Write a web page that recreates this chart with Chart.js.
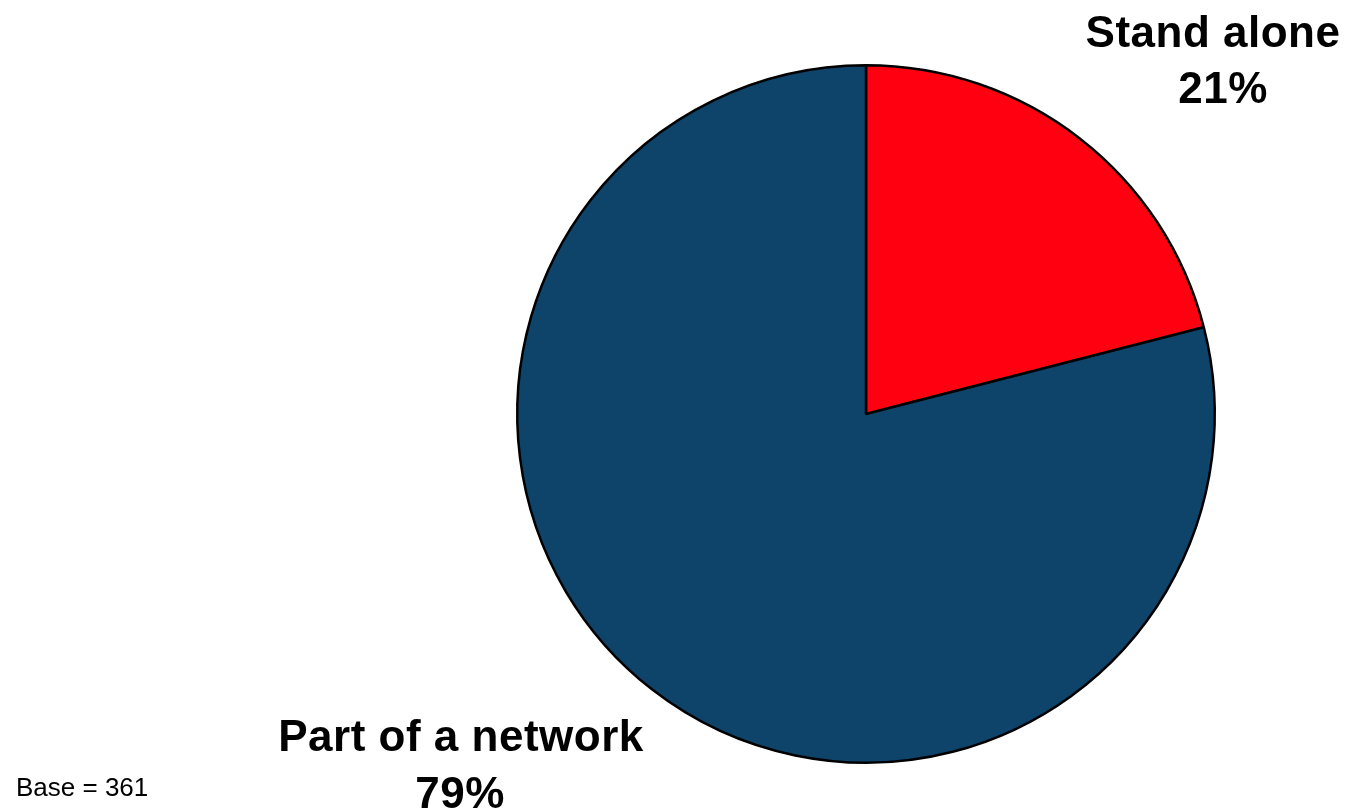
<!DOCTYPE html>
<html>
<head>
<meta charset="utf-8">
<script src="https://cdn.jsdelivr.net/npm/chart.js@4.4.1/dist/chart.umd.min.js"></script>
<style>
    html, body { margin: 0; padding: 0; background: #fff; }
    #wrap { width: 1354px; height: 812px; position: relative; }
</style>
</head>
<body>
<div id="wrap"><canvas id="pieChart"></canvas></div>
<script>
// Chart data
const categories = ['Stand alone', 'Part of a network'];
const shares = [21, 79];
const sliceColors = ['#FF0010', '#0E436A'];
const baseNote = 'Base = 361';

const FONT = "'Liberation Sans', Arial, sans-serif";

// Label placement for each slice (two lines: name + percentage)
const labelSpots = [
    { name: [1213, 47], pct: [1223, 103] },
    { name: [461, 751], pct: [460, 808] }
];

const sliceLabels = {
    id: 'sliceLabels',
    afterDraw(chart) {
        const ctx = chart.ctx;
        ctx.save();
        ctx.fillStyle = '#000';
        ctx.textAlign = 'center';
        ctx.textBaseline = 'alphabetic';
        ctx.font = `bold 44px ${FONT}`;
        ctx.letterSpacing = '0.5px';
        categories.forEach((cat, i) => {
            const spot = labelSpots[i];
            ctx.fillText(cat, spot.name[0], spot.name[1]);
            ctx.fillText(shares[i] + '%', spot.pct[0], spot.pct[1]);
        });
        ctx.letterSpacing = '0px';
        ctx.textAlign = 'left';
        ctx.font = `26px ${FONT}`;
        ctx.fillText(baseNote, 16, 796);
        ctx.restore();
    }
};

new Chart(document.getElementById('pieChart'), {
    type: 'pie',
    data: {
        labels: categories,
        datasets: [{
            data: shares,
            backgroundColor: sliceColors,
            borderColor: '#000',
            borderWidth: 2.5,
            hoverOffset: 0
        }]
    },
    options: {
        responsive: true,
        maintainAspectRatio: false,
        animation: false,
        layout: { padding: { left: 516, right: 138, top: 64, bottom: 48 } },
        plugins: {
            legend: { display: false },
            tooltip: { enabled: false }
        }
    },
    plugins: [sliceLabels]
});
</script>
</body>
</html>
